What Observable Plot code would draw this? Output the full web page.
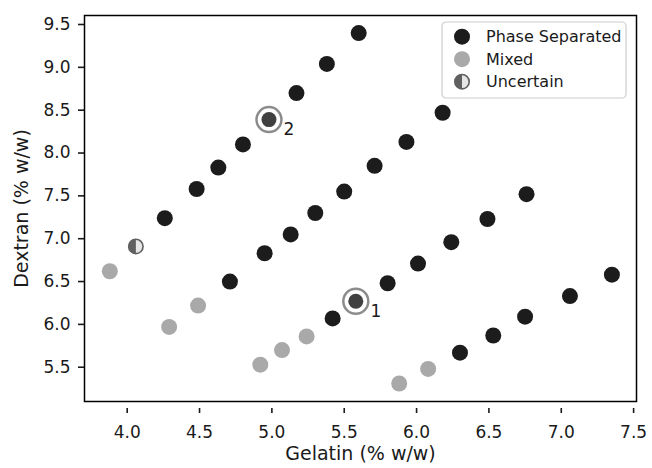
<!DOCTYPE html>
<html>
<head>
<meta charset="utf-8">
<script src="https://cdn.jsdelivr.net/npm/d3@7"></script>
<script src="https://cdn.jsdelivr.net/npm/@observablehq/plot@0.6"></script>
<style>
  html, body { margin: 0; padding: 0; background: #fff; }
  #chart { width: 652px; height: 468px; }
</style>
</head>
<body>
<div id="chart"></div>
<script>
// Phase separated points (gelatin %, dextran %)
const sepGelatin = [4.26, 4.48, 4.63, 4.80, 5.17, 5.38, 5.60,
                    4.71, 4.95, 5.13, 5.30, 5.50, 5.71, 5.93, 6.18,
                    5.42, 5.80, 6.01, 6.24, 6.49, 6.76,
                    6.30, 6.53, 6.75, 7.06, 7.35];
const sepDextran = [7.24, 7.58, 7.83, 8.10, 8.70, 9.04, 9.40,
                    6.50, 6.83, 7.05, 7.30, 7.55, 7.85, 8.13, 8.47,
                    6.07, 6.48, 6.71, 6.96, 7.23, 7.52,
                    5.67, 5.87, 6.09, 6.33, 6.58];
// Mixed points
const mixGelatin = [3.88, 4.29, 4.49, 4.92, 5.07, 5.24, 5.88, 6.08];
const mixDextran = [6.62, 5.97, 6.22, 5.53, 5.70, 5.86, 5.31, 5.48];
// Uncertain points
const uncGelatin = [4.06];
const uncDextran = [6.91];
// Highlighted (circled) points with labels
const markGelatin = [5.58, 4.98];
const markDextran = [6.27, 8.39];
const markLabels = ["1", "2"];

const xTicks = [4.0, 4.5, 5.0, 5.5, 6.0, 6.5, 7.0, 7.5];
const yTicks = [5.5, 6.0, 6.5, 7.0, 7.5, 8.0, 8.5, 9.0, 9.5];
const legendLabels = ["Phase Separated", "Mixed", "Uncertain"];

const sep = sepGelatin.map((g, i) => ({g, d: sepDextran[i]}));
const mix = mixGelatin.map((g, i) => ({g, d: mixDextran[i]}));
const unc = uncGelatin.map((g, i) => ({g, d: uncDextran[i]}));
const marked = markGelatin.map((g, i) => ({g, d: markDextran[i], label: markLabels[i]}));

const leftHalf = {
  draw(context, size) {
    const r = Math.sqrt(size / Math.PI);
    context.moveTo(0, -r);
    context.arc(0, 0, r, -Math.PI / 2, Math.PI / 2, true);
    context.closePath();
  }
};

const chart = Plot.plot({
  width: 652,
  height: 468,
  marginLeft: 84,
  marginRight: 16,
  marginTop: 15,
  marginBottom: 67,
  style: {fontFamily: "DejaVu Sans", fontSize: "17px", color: "#1a1a1a", background: "#fff"},
  x: {domain: [3.705, 7.52]},
  y: {domain: [5.10, 9.605]},
  marks: [
    Plot.axisX({ticks: xTicks, tickFormat: d3.format(".1f"), tickSize: 5, tickPadding: 12, dy: 7, label: null, strokeWidth: 1.6}),
    Plot.axisY({ticks: yTicks, tickFormat: d3.format(".1f"), tickSize: 6, tickPadding: 8, label: null, strokeWidth: 1.6}),
    Plot.frame({stroke: "#000", strokeWidth: 1.5}),
    Plot.dot(sep, {x: "g", y: "d", r: 8, fill: "#1c1c1c", stroke: null}),
    Plot.dot(mix, {x: "g", y: "d", r: 8, fill: "#a9a9a9", stroke: null}),
    Plot.dot(unc, {x: "g", y: "d", r: 7.2, fill: "#e6e6e6", stroke: "#606060", strokeWidth: 1.6}),
    Plot.dot(unc, {x: "g", y: "d", r: 7.2, symbol: leftHalf, fill: "#606060", stroke: null}),
    Plot.dot(marked, {x: "g", y: "d", r: 12.5, fill: "#fff", stroke: "#8c8c8c", strokeWidth: 2.5}),
    Plot.dot(marked, {x: "g", y: "d", r: 7.5, fill: "#404040", stroke: null}),
    Plot.text(marked, {x: "g", y: "d", text: "label", dx: 20, dy: 10, fontSize: 17, fill: "#1a1a1a"}),
    Plot.text(["Gelatin (% w/w)"], {frameAnchor: "bottom", textAnchor: "middle", dy: 58, fontSize: 19, fill: "#1a1a1a"}),
    Plot.text(["Dextran (% w/w)"], {frameAnchor: "left", textAnchor: "middle", dx: -63, rotate: -90, fontSize: 19, fill: "#1a1a1a"})
  ]
});

// Legend drawn inside the plot SVG
const svg = d3.select(chart);
const lg = svg.append("g").attr("transform", "translate(442,22)");
lg.append("rect").attr("width", 184).attr("height", 76).attr("rx", 4)
  .attr("fill", "#fff").attr("fill-opacity", 0.9).attr("stroke", "#cccccc").attr("stroke-width", 1.2);
const rows = [
  {label: legendLabels[0], kind: "sep"},
  {label: legendLabels[1], kind: "mix"},
  {label: legendLabels[2], kind: "unc"}
];
rows.forEach((row, i) => {
  const cy = 14.7 + i * 22.5;
  const cx = 20;
  if (row.kind === "sep") {
    lg.append("circle").attr("cx", cx).attr("cy", cy).attr("r", 8).attr("fill", "#1c1c1c");
  } else if (row.kind === "mix") {
    lg.append("circle").attr("cx", cx).attr("cy", cy).attr("r", 8).attr("fill", "#a9a9a9");
  } else {
    lg.append("circle").attr("cx", cx).attr("cy", cy).attr("r", 7.2).attr("fill", "#e6e6e6")
      .attr("stroke", "#606060").attr("stroke-width", 1.6);
    const r = 7.2;
    lg.append("path").attr("d", `M${cx},${cy - r} A${r},${r} 0 0 0 ${cx},${cy + r} Z`).attr("fill", "#606060");
  }
  lg.append("text").attr("x", 44).attr("y", cy).attr("dy", "0.35em").attr("text-anchor", "start")
    .attr("font-family", "DejaVu Sans").attr("font-size", 16).attr("fill", "#1a1a1a").text(row.label);
});

document.getElementById("chart").appendChild(chart);
</script>
</body>
</html>
